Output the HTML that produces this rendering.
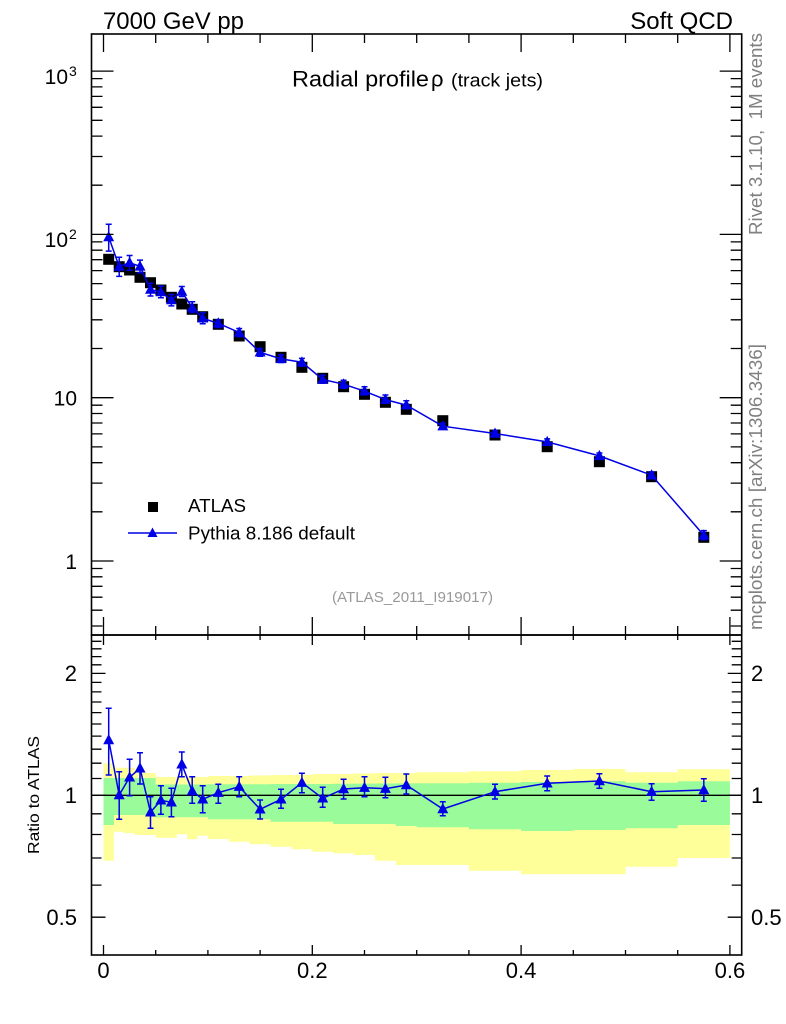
<!DOCTYPE html>
<html>
<head>
<meta charset="utf-8">
<style>
html,body{margin:0;padding:0;background:#fff;}
svg{display:block;}
text{font-family:"Liberation Sans",Arial,sans-serif;}
</style>
</head>
<body>
<svg width="786" height="1024" viewBox="0 0 786 1024" xmlns="http://www.w3.org/2000/svg">
<defs>
<marker id="tri" markerWidth="14" markerHeight="14" refX="7" refY="7" markerUnits="userSpaceOnUse" overflow="visible">
<path d="M7,1 L12.5,11.2 L1.5,11.2 Z" fill="#0000e6"/>
</marker>
<marker id="sq" markerWidth="12" markerHeight="12" refX="5.5" refY="5.5" markerUnits="userSpaceOnUse" overflow="visible">
<rect x="0" y="0" width="11" height="11" fill="#000"/>
</marker>
<clipPath id="cm"><rect x="91.5" y="34" width="650.2" height="601"/></clipPath>
<clipPath id="cr"><rect x="91.5" y="635" width="650.2" height="320"/></clipPath>
</defs>

<!-- header text -->
<text x="103" y="29" font-size="24" textLength="141" lengthAdjust="spacingAndGlyphs">7000 GeV pp</text>
<text x="733" y="29" font-size="24" text-anchor="end">Soft QCD</text>

<!-- title -->
<text x="292" y="86.7" font-size="22.5" textLength="137" lengthAdjust="spacingAndGlyphs">Radial profile</text>
<text x="431" y="86.7" font-size="22">ρ</text>
<text x="451" y="86.7" font-size="18.5" textLength="92" lengthAdjust="spacingAndGlyphs">(track jets)</text>

<!-- ratio band -->
<g clip-path="url(#cr)">
<path fill="#ffff99" d="M103.5,763.3 H113.9 V767.7 H124.4 V767.7 H134.8 V772 H145.3 V773 H155.7 V777 H166.1 H176.6 H187 H197.5 H207.9 V776 H228.8 V776 H249.7 V775.5 H270.5 V775 H291.4 V775 H312.3 V774 H333.2 V774 H354.1 V773.5 H374.9 V773 H395.8 V773 H416.7 V772.3 H468.9 V771.3 H521.1 V770 H573.3 V769 H625.5 V772.3 H677.7 V769.3 H729.9 V858 H677.7 V866.7 H625.5 V874.3 H573.3 V874.3 H521.1 V870.7 H468.9 V865 H416.7 V865 H395.8 V860.7 H374.9 V855 H354.1 V853.3 H333.2 V851.7 H312.3 V849.3 H291.4 V846.7 H270.5 V844.3 H249.7 V841.7 H228.8 V839 H207.9 V835.7 H197.5 V839.3 H187 V834.3 H176.6 V837.7 H166.1 V837.7 H155.7 V835 H145.3 V835 H134.8 V833.3 H124.4 V831.7 H113.9 V860.7 H103.5 Z"/>
<path fill="#99fb99" d="M103.5,778 H155.7 V784.5 H207.9 V784.3 H270.5 V784 H333.2 V783.8 H354.1 V783.6 H374.9 V783.5 H395.8 V783.4 H416.7 V783.3 H468.9 V782.7 H521.1 V782 H573.3 V781.3 H625.5 V782.7 H677.7 V781.3 H729.9 V825 H677.7 V828.3 H625.5 V830 H573.3 V831 H521.1 V829.3 H468.9 V827.3 H416.7 V826 H395.8 V824 H333.2 V821.7 H270.5 V819.3 H207.9 V817.3 H155.7 V815 H113.9 V825 H103.5 Z"/>
<path d="M91.5,795.3 H741.7" stroke="#000" stroke-width="1.4" fill="none"/>
<path stroke="#0000e6" stroke-width="1.5" fill="none" d="M108.7,708.3V775M105.7,708.3h6M105.7,775h6M119.2,771.7V819.3M116.2,771.7h6M116.2,819.3h6M129.6,759.3V795.7M126.6,759.3h6M126.6,795.7h6M140,752.7V784M137,752.7h6M137,784h6M150.5,796.7V828.3M147.5,796.7h6M147.5,828.3h6M160.9,785.7V814.3M157.9,785.7h6M157.9,814.3h6M171.4,788.3V816.7M168.4,788.3h6M168.4,816.7h6M181.8,752V776.7M178.8,752h6M178.8,776.7h6M192.2,776.7V803.3M189.2,776.7h6M189.2,803.3h6M202.7,785.7V812.7M199.7,785.7h6M199.7,812.7h6M218.3,784.3V803.3M215.3,784.3h6M215.3,803.3h6M239.2,776.7V796.7M236.2,776.7h6M236.2,796.7h6M260.1,800V819M257.1,800h6M257.1,819h6M281,789.3V808.3M278,789.3h6M278,808.3h6M301.9,773.3V792.7M298.9,773.3h6M298.9,792.7h6M322.7,787.3V807.3M319.7,787.3h6M319.7,807.3h6M343.6,779.3V799M340.6,779.3h6M340.6,799h6M364.5,776.7V796.7M361.5,776.7h6M361.5,796.7h6M385.4,777.3V797.7M382.4,777.3h6M382.4,797.7h6M406.3,774V794M403.3,774h6M403.3,794h6M442.8,801.7V815.7M439.8,801.7h6M439.8,815.7h6M495,784.3V799M492,784.3h6M492,799h6M547.2,776V790.7M544.2,776h6M544.2,790.7h6M599.4,773.7V788.3M596.4,773.7h6M596.4,788.3h6M651.6,783.7V800.3M648.6,783.7h6M648.6,800.3h6M703.8,778.7V801.3M700.8,778.7h6M700.8,801.3h6"/>
<polyline fill="none" stroke="#0000e6" stroke-width="1.5" marker-start="url(#tri)" marker-mid="url(#tri)" marker-end="url(#tri)" points="108.7,740 119.2,795 129.6,777.3 140,768.3 150.5,812.3 160.9,800.3 171.4,802.3 181.8,764.3 192.2,791 202.7,799.3 218.3,792.7 239.2,786.7 260.1,809.3 281,799.3 301.9,782.7 322.7,798.3 343.6,789 364.5,787.7 385.4,788.7 406.3,785 442.8,809 495,791.7 547.2,783.3 599.4,781 651.6,791.7 703.8,790"/>
</g>

<!-- main panel data -->
<g clip-path="url(#cm)">
<polyline fill="none" stroke="none" marker-start="url(#sq)" marker-mid="url(#sq)" marker-end="url(#sq)" points="108.7,259.3 119.2,266.7 129.6,270 140,277.3 150.5,282.7 160.9,290 171.4,297.3 181.8,304 192.2,309.3 202.7,316.7 218.3,324.3 239.2,336 260.1,346.7 281,357.3 301.9,367.3 322.7,378.3 343.6,386.7 364.5,394.3 385.4,402.3 406.3,409.3 442.8,420.7 495,435 547.2,446.7 599.4,461.7 651.6,476.7 703.8,537.3"/>
<path stroke="#0000e6" stroke-width="1.5" fill="none" d="M108.7,224.2V251.1M105.7,224.2h6M105.7,251.1h6M119.2,257.2V276.4M116.2,257.2h6M116.2,276.4h6M129.6,255.5V270.2M126.6,255.5h6M126.6,270.2h6M140,260.1V272.7M137,260.1h6M137,272.7h6M150.5,283.3V296M147.5,283.3h6M147.5,296h6M160.9,286.1V297.7M157.9,286.1h6M157.9,297.7h6M171.4,294.5V305.9M168.4,294.5h6M168.4,305.9h6M181.8,286.5V296.5M178.8,286.5h6M178.8,296.5h6M192.2,301.8V312.5M189.2,301.8h6M189.2,312.5h6M202.7,312.8V323.7M199.7,312.8h6M199.7,323.7h6M218.3,319.9V327.5M215.3,319.9h6M215.3,327.5h6M239.2,328.5V336.6M236.2,328.5h6M236.2,336.6h6M260.1,348.6V356.3M257.1,348.6h6M257.1,356.3h6M281,354.9V362.5M278,354.9h6M278,362.5h6M301.9,358.4V366.3M298.9,358.4h6M298.9,366.3h6M322.7,375.1V383.1M319.7,375.1h6M319.7,383.1h6M343.6,380.2V388.2M340.6,380.2h6M340.6,388.2h6M364.5,386.8V394.9M361.5,386.8h6M361.5,394.9h6M385.4,395V403.3M382.4,395h6M382.4,403.3h6M406.3,400.7V408.8M403.3,400.7h6M403.3,408.8h6M442.8,423.3V428.9M439.8,423.3h6M439.8,428.9h6M495,430.6V436.5M492,430.6h6M492,436.5h6M547.2,438.9V444.8M544.2,438.9h6M544.2,444.8h6M599.4,453V458.9M596.4,453h6M596.4,458.9h6M651.6,472V478.7M648.6,472h6M648.6,478.7h6M703.8,530.6V539.7M700.8,530.6h6M700.8,539.7h6"/>
<polyline fill="none" stroke="#0000e6" stroke-width="1.5" marker-start="url(#tri)" marker-mid="url(#tri)" marker-end="url(#tri)" points="108.7,237 119.2,266.6 129.6,262.7 140,266.4 150.5,289.6 160.9,292 171.4,300.1 181.8,291.5 192.2,307.6 202.7,318.3 218.3,323.3 239.2,332.5 260.1,352.3 281,358.9 301.9,362.2 322.7,379.5 343.6,384.2 364.5,391.2 385.4,399.6 406.3,405.1 442.8,426.2 495,433.5 547.2,441.9 599.4,455.9 651.6,475.2 703.8,535.2"/>
</g>

<!-- legend -->
<rect x="148" y="502" width="10" height="10" fill="#000"/>
<text x="188" y="512" font-size="18.5" textLength="58" lengthAdjust="spacingAndGlyphs">ATLAS</text>
<path d="M128,533 H177" stroke="#0000e6" stroke-width="1.5"/>
<path d="M152.5,527.5 L157.5,537 L147.5,537 Z" fill="#0000e6"/>
<text x="188" y="539.5" font-size="18.5" textLength="167" lengthAdjust="spacingAndGlyphs">Pythia 8.186 default</text>
<text x="332" y="602" font-size="15" fill="#999" textLength="161" lengthAdjust="spacingAndGlyphs">(ATLAS_2011_I919017)</text>

<!-- frames -->
<rect x="91.5" y="34" width="650.2" height="601" fill="none" stroke="#000" stroke-width="1.6"/>
<rect x="91.5" y="635" width="650.2" height="320" fill="none" stroke="#000" stroke-width="1.6"/>

<!-- ticks -->
<g stroke="#000" stroke-width="1.3" fill="none">
<!-- main y left -->
<path d="M91.5,71.1h22M91.5,234.4h22M91.5,397.7h22M91.5,561h22"/>
<path d="M91.5,78.6h11M91.5,86.9h11M91.5,96.4h11M91.5,107.3h11M91.5,120.3h11M91.5,136.1h11M91.5,156.5h11M91.5,185.2h11M91.5,241.9h11M91.5,250.2h11M91.5,259.7h11M91.5,270.6h11M91.5,283.6h11M91.5,299.4h11M91.5,319.8h11M91.5,348.5h11M91.5,405.2h11M91.5,413.5h11M91.5,423h11M91.5,433.9h11M91.5,446.9h11M91.5,462.7h11M91.5,483.1h11M91.5,511.8h11M91.5,568.5h11M91.5,576.8h11M91.5,586.3h11M91.5,597.2h11M91.5,610.2h11M91.5,626h11"/>
<!-- main y right -->
<path d="M741.7,71.1h-22M741.7,234.4h-22M741.7,397.7h-22M741.7,561h-22"/>
<path d="M741.7,78.6h-11M741.7,86.9h-11M741.7,96.4h-11M741.7,107.3h-11M741.7,120.3h-11M741.7,136.1h-11M741.7,156.5h-11M741.7,185.2h-11M741.7,241.9h-11M741.7,250.2h-11M741.7,259.7h-11M741.7,270.6h-11M741.7,283.6h-11M741.7,299.4h-11M741.7,319.8h-11M741.7,348.5h-11M741.7,405.2h-11M741.7,413.5h-11M741.7,423h-11M741.7,433.9h-11M741.7,446.9h-11M741.7,462.7h-11M741.7,483.1h-11M741.7,511.8h-11M741.7,568.5h-11M741.7,576.8h-11M741.7,586.3h-11M741.7,597.2h-11M741.7,610.2h-11M741.7,626h-11"/>
<!-- main x top -->
<path d="M103.5,34v18M312.3,34v18M521.1,34v18M729.9,34v18M155.7,34v9M207.9,34v9M260.1,34v9M364.5,34v9M416.7,34v9M468.9,34v9M573.3,34v9M625.5,34v9M677.7,34v9"/>
<!-- main x bottom -->
<path d="M103.5,635v-18M312.3,635v-18M521.1,635v-18M729.9,635v-18M155.7,635v-9M207.9,635v-9M260.1,635v-9M364.5,635v-9M416.7,635v-9M468.9,635v-9M573.3,635v-9M625.5,635v-9M677.7,635v-9"/>
<!-- ratio x top -->
<path d="M103.5,635v10M312.3,635v10M521.1,635v10M729.9,635v10M155.7,635v5M207.9,635v5M260.1,635v5M364.5,635v5M416.7,635v5M468.9,635v5M573.3,635v5M625.5,635v5M677.7,635v5"/>
<!-- ratio x bottom -->
<path d="M103.5,955v-10M312.3,955v-10M521.1,955v-10M729.9,955v-10M155.7,955v-5M207.9,955v-5M260.1,955v-5M364.5,955v-5M416.7,955v-5M468.9,955v-5M573.3,955v-5M625.5,955v-5M677.7,955v-5"/>
<!-- ratio y left -->
<path d="M91.5,673.4h14M91.5,795.3h14M91.5,917.2h14"/>
<path d="M91.5,641.3h10M91.5,648.8h10M91.5,656.6h10M91.5,664.8h10M91.5,682.4h10M91.5,691.9h10M91.5,702h10M91.5,712.6h10M91.5,724h10M91.5,736.1h10M91.5,749.2h10M91.5,763.2h10M91.5,778.5h10M91.5,813.8h10M91.5,834.5h10M91.5,858h10M91.5,885.1h10"/>
<!-- ratio y right -->
<path d="M741.7,673.4h-14M741.7,795.3h-14M741.7,917.2h-14"/>
<path d="M741.7,641.3h-10M741.7,648.8h-10M741.7,656.6h-10M741.7,664.8h-10M741.7,682.4h-10M741.7,691.9h-10M741.7,702h-10M741.7,712.6h-10M741.7,724h-10M741.7,736.1h-10M741.7,749.2h-10M741.7,763.2h-10M741.7,778.5h-10M741.7,813.8h-10M741.7,834.5h-10M741.7,858h-10M741.7,885.1h-10"/>
</g>

<!-- main y labels -->
<text x="68" y="84" font-size="21" text-anchor="end">10</text>
<text x="69" y="76" font-size="14">3</text>
<text x="68" y="247" font-size="21" text-anchor="end">10</text>
<text x="69" y="239" font-size="14">2</text>
<text x="77" y="405.5" font-size="21" text-anchor="end">10</text>
<text x="77" y="569" font-size="21" text-anchor="end">1</text>

<!-- ratio y labels -->
<text x="77" y="681" font-size="22" text-anchor="end">2</text>
<text x="77" y="803" font-size="22" text-anchor="end">1</text>
<text x="77" y="925" font-size="22" text-anchor="end">0.5</text>
<text x="751" y="681" font-size="22">2</text>
<text x="751" y="803" font-size="22">1</text>
<text x="751" y="925" font-size="22">0.5</text>

<!-- x labels -->
<text x="103.5" y="978" font-size="22" text-anchor="middle">0</text>
<text x="312.3" y="978" font-size="22" text-anchor="middle">0.2</text>
<text x="521.1" y="978" font-size="22" text-anchor="middle">0.4</text>
<text x="729.9" y="978" font-size="22" text-anchor="middle">0.6</text>

<!-- rotated texts -->
<text transform="translate(39,795) rotate(-90)" font-size="16" text-anchor="middle" textLength="118" lengthAdjust="spacingAndGlyphs">Ratio to ATLAS</text>
<text transform="translate(762,235) rotate(-90)" font-size="18" fill="#808080" textLength="202" lengthAdjust="spacingAndGlyphs">Rivet 3.1.10,&#160; 1M events</text>
<text transform="translate(762,630) rotate(-90)" font-size="18" fill="#808080" textLength="286" lengthAdjust="spacingAndGlyphs">mcplots.cern.ch [arXiv:1306.3436]</text>
</svg>
</body>
</html>
